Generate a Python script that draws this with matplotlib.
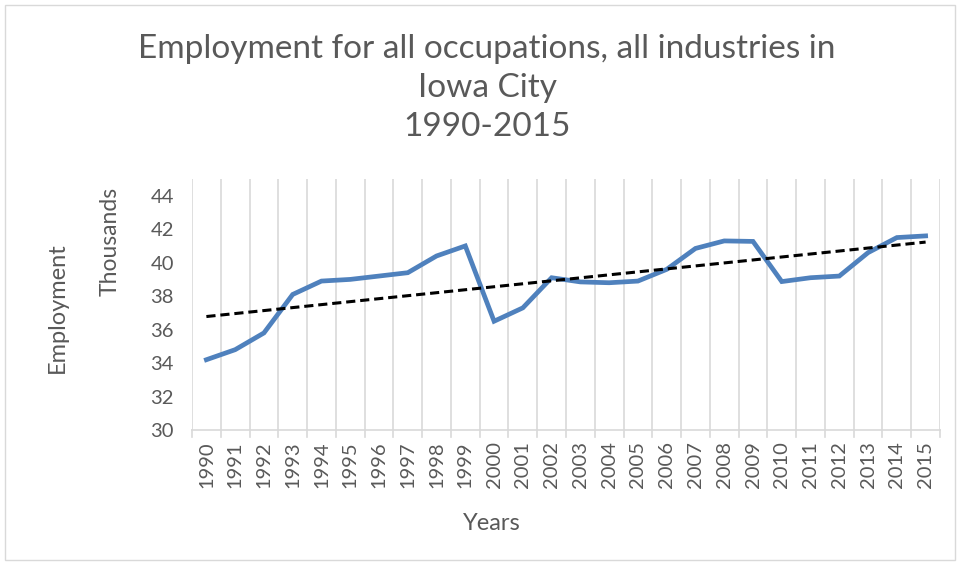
import matplotlib.pyplot as plt
import numpy as np
from matplotlib.patches import Rectangle

years = [str(y) for y in range(1990, 2016)]
employment = [34.2, 34.8, 35.8, 38.1, 38.9, 39.0, 39.2, 39.4, 40.4, 41.0,
              36.5, 37.3, 39.1, 38.85, 38.8, 38.9, 39.6, 40.85, 41.3, 41.27,
              38.87, 39.1, 39.2, 40.6, 41.5, 41.6]
y_ticks = [30, 32, 34, 36, 38, 40, 42, 44]

TEXT = '#595959'
GRID = '#d9d9d9'
BLUE = '#4f81bd'

plt.rcParams['font.family'] = ['Lato', 'DejaVu Sans']

fig = plt.figure(figsize=(9.59, 5.64), dpi=100)
ax = fig.add_axes([192 / 959, 1 - 430 / 564, (940 - 192) / 959, (430 - 179) / 564])

x = np.arange(len(years))
ax.plot(x, employment, color=BLUE, lw=3.4, solid_joinstyle='miter', zorder=3)

# linear trendline
slope, icpt = np.polyfit(x, employment, 1)
ax.plot(x, slope * x + icpt, color='black', lw=2.2, ls=(0, (3, 1.6)), zorder=4)

ax.set_xlim(-0.5, len(years) - 0.5)
ax.set_ylim(30, 45)
ax.set_yticks(y_ticks)
ax.set_xticks(x)
ax.set_xticklabels(years, rotation=90)
ax.tick_params(axis='x', length=0, pad=8, labelsize=14.5, labelcolor=TEXT)
ax.tick_params(axis='y', length=0, pad=13, labelsize=14.5, labelcolor=TEXT)

# vertical gridlines between categories, with small ticks below the axis
for b in np.arange(-0.5, len(years), 1.0):
    ax.axvline(b, color=GRID, lw=1.2, zorder=1)
    ax.plot([b, b], [30, 29.6], color=GRID, lw=1.2, clip_on=False)

for s in ['top', 'right', 'left']:
    ax.spines[s].set_visible(False)
ax.spines['bottom'].set_color(GRID)
ax.spines['bottom'].set_linewidth(1.2)

fig.text(487 / 959, 1 - 88 / 564,
         'Employment for all occupations, all industries in\nIowa City\n1990-2015',
         ha='center', va='center', fontsize=24, color=TEXT, linespacing=1.38)
fig.text(110 / 959, 1 - 241 / 564, 'Thousands', rotation=90,
         ha='center', va='center', fontsize=16.5, color=TEXT)
fig.text(57 / 959, 1 - 308 / 564, 'Employment', rotation=90,
         ha='center', va='center', fontsize=17, color=TEXT)
fig.text(492 / 959, 1 - 523 / 564, 'Years',
         ha='center', va='center', fontsize=17, color=TEXT)

fig.patches.append(Rectangle((5 / 959, 4 / 564), 950 / 959, 555 / 564,
                             transform=fig.transFigure, fill=False,
                             edgecolor=GRID, lw=1))

fig.savefig('out.png', dpi=100)
